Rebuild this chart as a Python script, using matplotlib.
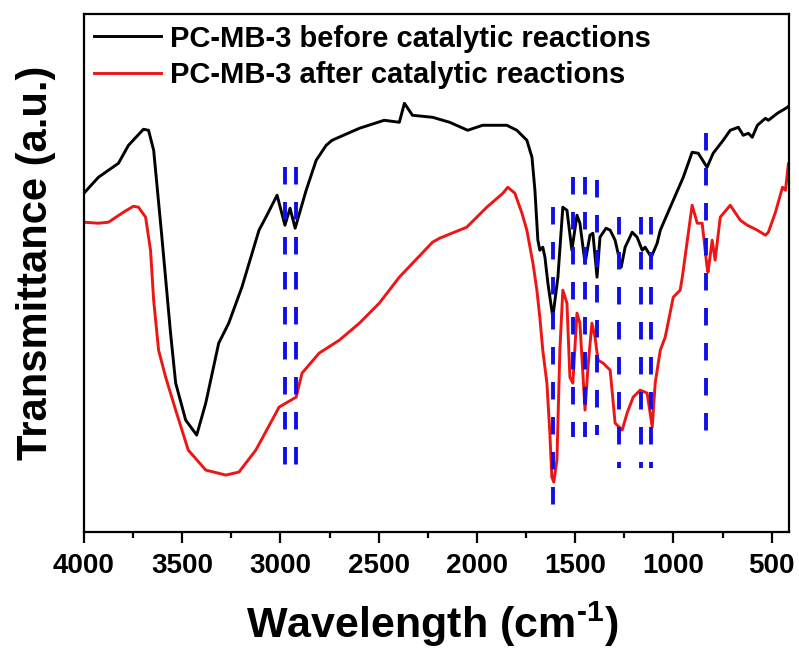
import numpy as np
import matplotlib
matplotlib.use("Agg")
import matplotlib.pyplot as plt
from matplotlib.ticker import MultipleLocator

plt.rcParams['font.family'] = ['Liberation Sans', 'DejaVu Sans']
plt.rcParams['font.weight'] = 'bold'
plt.rcParams['mathtext.fontset'] = 'custom'
plt.rcParams['mathtext.rm'] = 'Liberation Sans:bold'
plt.rcParams['mathtext.bf'] = 'Liberation Sans:bold'
plt.rcParams['mathtext.default'] = 'rm'

# FTIR spectra (wavenumber in cm-1, transmittance in arbitrary units)
before_wn = [4000, 3926, 3824, 3773, 3697, 3671, 3645, 3605, 3559, 3533, 3482, 3426,
             3380, 3314, 3263, 3196, 3109, 3074, 3017, 2977, 2951, 2925, 2869, 2818,
             2767, 2737, 2598, 2472, 2395, 2369, 2328, 2226, 2139, 2047, 1971, 1848,
             1797, 1746, 1720, 1705, 1690, 1680, 1665, 1654, 1639, 1614, 1588, 1563,
             1542, 1517, 1491, 1476, 1450, 1425, 1410, 1389, 1374, 1343, 1322, 1297,
             1266, 1246, 1210, 1185, 1159, 1144, 1113, 1083, 1067, 1001, 950, 905,
             874, 829, 798, 747, 711, 670, 645, 619, 599, 573, 532, 517, 471, 420, 410]
before_t = [358, 374, 388, 406, 422, 421, 401, 318, 218, 168, 131, 116,
            148, 208, 228, 264, 321, 334, 356, 326, 343, 323, 361, 391,
            406, 411, 423, 431, 429, 448, 436, 434, 429, 421, 426, 426,
            421, 411, 394, 361, 311, 301, 304, 294, 268, 234, 274, 344,
            341, 301, 336, 328, 288, 316, 318, 274, 314, 323, 321, 311,
            284, 304, 319, 314, 301, 304, 294, 308, 321, 351, 374, 399,
            398, 384, 398, 411, 421, 424, 416, 418, 414, 426, 433, 431, 438, 444, 446]

after_wn = [4000, 3926, 3875, 3799, 3748, 3722, 3686, 3661, 3645, 3620, 3584, 3533,
            3469, 3380, 3278, 3211, 3125, 3023, 3007, 2920, 2890, 2803, 2700, 2598,
            2497, 2395, 2226, 2190, 2052, 1950, 1868, 1843, 1807, 1771, 1746, 1715,
            1695, 1680, 1665, 1644, 1629, 1619, 1609, 1593, 1578, 1563, 1542, 1527,
            1512, 1491, 1476, 1450, 1435, 1415, 1399, 1384, 1358, 1322, 1297, 1261,
            1236, 1205, 1169, 1134, 1108, 1093, 1067, 1042, 1001, 966, 955, 905,
            879, 854, 829, 824, 803, 788, 762, 711, 660, 624, 573, 532, 517, 481,
            445, 430, 415, 410]
after_t = [329, 328, 329, 339, 345, 344, 334, 301, 251, 201, 174, 141,
           101, 81, 76, 79, 101, 138, 144, 154, 178, 198, 211, 228,
           248, 274, 309, 313, 324, 344, 358, 364, 358, 338, 321, 288,
           261, 234, 201, 168, 118, 74, 69, 91, 201, 261, 248, 174,
           168, 238, 228, 141, 184, 228, 214, 191, 188, 181, 128, 121,
           138, 154, 161, 158, 124, 168, 201, 214, 254, 261, 274, 346,
           328, 328, 284, 279, 311, 291, 334, 346, 331, 326, 321, 316, 319, 339,
           364, 361, 388, 385]

# marked bands: position, top, bottom
band_wn = [2977, 2920, 1612, 1511, 1450, 1389, 1275, 1164, 1113, 832]
band_top = [384, 384, 344, 374, 374, 371, 334, 334, 334, 418]
band_bot = [84, 84, 46, 114, 114, 116, 83, 83, 83, 119]

fig = plt.figure(figsize=(7.99, 6.52), dpi=100)
ax = fig.add_axes([0.105, 0.184, 0.883, 0.794])

ax.plot(before_wn, before_t, color='black', lw=2.1, label='PC-MB-3 before catalytic reactions')
ax.plot(after_wn, after_t, color='#ee1515', lw=2.1, label='PC-MB-3 after catalytic reactions')

for wn, top, bot in zip(band_wn, band_top, band_bot):
    ax.plot([wn, wn], [top, bot], color='#1010e6', lw=2.8, linestyle=(0, (4.5, 4.5)))

ax.set_xlim(4000, 410)
ax.set_ylim(19, 537)
ax.xaxis.set_major_locator(MultipleLocator(500))
ax.xaxis.set_minor_locator(MultipleLocator(250))
ax.set_yticks([])
ax.tick_params(axis='x', which='major', direction='out', length=8, width=1.6, pad=7, labelsize=20)
ax.tick_params(axis='x', which='minor', direction='out', length=4, width=1.6)
for s in ax.spines.values():
    s.set_linewidth(1.6)

ax.set_xlabel('Wavelength (cm$^{\\text{-1}}$)', fontsize=31, fontweight='bold')
ax.xaxis.set_label_coords(0.494, -0.13)
ax.set_ylabel('Transmittance (a.u.)', fontsize=30, fontweight='bold')
ax.yaxis.set_label_coords(-0.04, 0.52)

ax.legend(loc='upper left', frameon=False, fontsize=21, handlelength=2.3,
          handletextpad=0.3, labelspacing=0.3, borderaxespad=0.1, borderpad=0.25)

fig.savefig('out.png', dpi=100)
